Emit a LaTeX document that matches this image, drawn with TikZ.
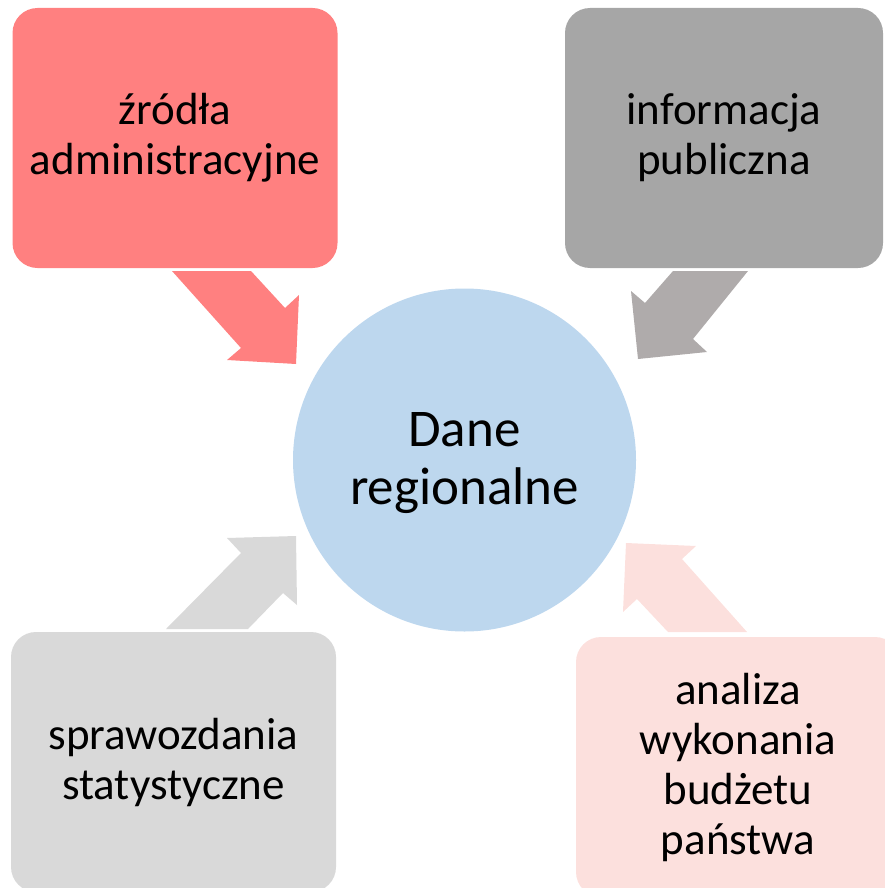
\documentclass[tikz,border=0pt]{standalone}
\usepackage{fontspec}
\setmainfont{Carlito}
\definecolor{cred}{HTML}{FF8080}
\definecolor{cgray}{HTML}{A6A6A6}
\definecolor{cgrayarrow}{HTML}{AFABAB}
\definecolor{clight}{HTML}{D9D9D9}
\definecolor{cpink}{HTML}{FCE0DD}
\definecolor{cblue}{HTML}{BDD7EE}
\tikzset{
  box/.style={rectangle, rounded corners=25pt, draw=none, minimum width=325pt, minimum height=260pt, align=center, inner sep=0pt, font=\fontsize{45}{50}\selectfont},
  hub/.style={circle, draw=none, fill=cblue, minimum size=343pt, align=center, inner sep=0pt, font=\fontsize{53}{58}\selectfont},
}
\begin{document}
\begin{tikzpicture}[x=1pt,y=-1pt]
\useasboundingbox (0,0) rectangle (885,888);
% arrows
\fill[cred] (172,271) -- (251,271) -- (285,308) -- (299,295) -- (296,364) -- (227,360) -- (241,348) -- cycle;
\fill[cgrayarrow] (673,271) -- (748,271) -- (693,339) -- (707,352) -- (638,359) -- (631,291) -- (645,303) -- cycle;
\fill[clight] (166,629) -- (248,629) -- (283,593) -- (297,605) -- (296,536) -- (227,538) -- (241,553) -- cycle;
\fill[cpink] (747,632) -- (682,559) -- (696,546) -- (626,543) -- (623,612) -- (637,599) -- (668,632) -- cycle;
% boxes
\node[box, fill=cred] (src) at (175,138) {źródła\\administracyjne};
\node[box, fill=cgray, minimum width=318pt] (pub) at (724,138) {informacja\\publiczna};
\node[box, fill=clight] (stat) at (173.5,762) {sprawozdania\\statystyczne};
\node[box, fill=cpink, minimum width=324pt] (bud) at (738,767) {analiza\\wykonania\\budżetu\\państwa};
% hub
\node[hub] (hub) at (464.5,460) {};
\node[font=\fontsize{53}{58}\selectfont, align=center, inner sep=0pt] (hubtext) at (464.5,463) {Dane\\regionalne};
\end{tikzpicture}
\end{document}
